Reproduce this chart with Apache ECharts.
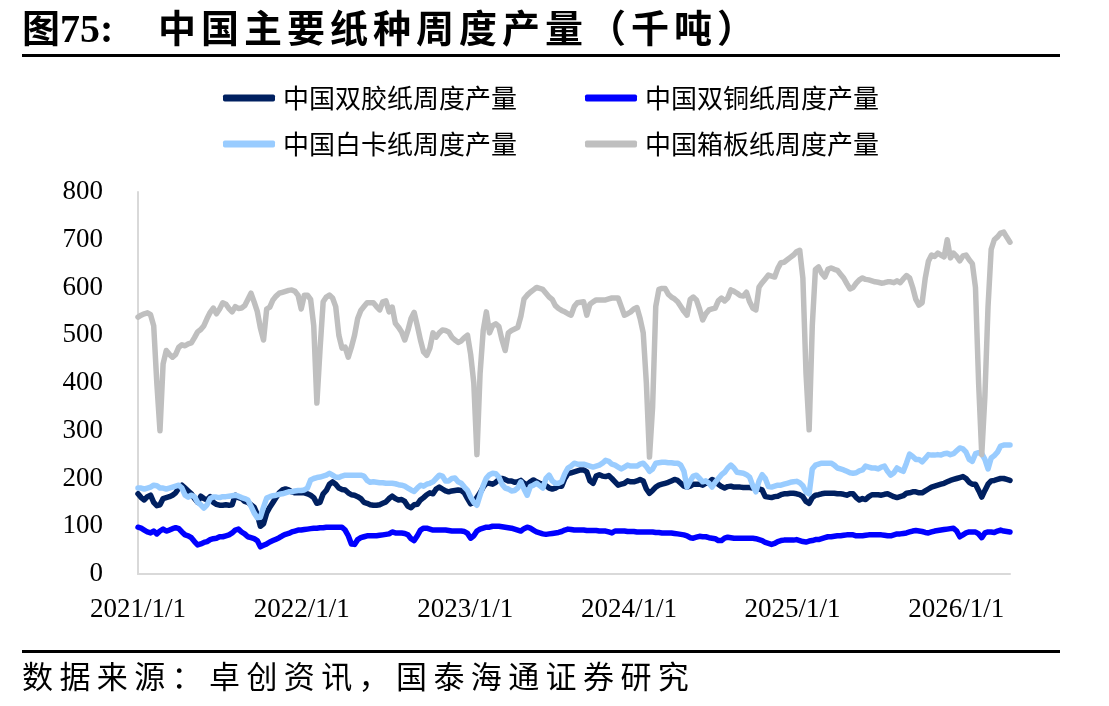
<!DOCTYPE html>
<html>
<head>
<meta charset="utf-8">
<title>中国主要纸种周度产量</title>
<script src="https://cdn.jsdelivr.net/npm/echarts@6.0.0/dist/echarts.min.js"></script>
<style>
  body { margin: 0; background: #fff; }
  .page { position: relative; width: 1109px; height: 706px; overflow: hidden; background: #fff; }
  #chart { position: absolute; left: 0; top: 0; width: 1109px; height: 706px; }
  .title { position: absolute; left: 22px; top: 3px; height: 46px; font-family: 'Noto Sans CJK SC'; font-weight: bold; font-size: 38px; line-height: 46px; color: #000; white-space: nowrap; }
  .title .num { font-family: 'Liberation Serif'; font-size: 40px; }
  .title .main { position: absolute; left: 136px; top: 0; letter-spacing: 5px; }
  .rule { position: absolute; left: 22px; width: 1038px; height: 3px; background: #000; }
  .source { position: absolute; left: 22px; top: 654px; font-family: 'Noto Sans CJK SC'; font-size: 31px; line-height: 42px; letter-spacing: 6.4px; color: #000; white-space: nowrap; }
</style>
</head>
<body>
<div class="page">
  <div id="chart"></div>
  <div class="title">图<span class="num">75:</span><span class="main">中国主要纸种周度产量（千吨）</span></div>
  <div class="rule" style="top:54px"></div>
  <div class="rule" style="top:650px"></div>
  <div class="source">数据来源：卓创资讯，国泰海通证券研究</div>
</div>
<script>
  // 周度数据，从2021/1/1起每周一个点
  var startDate = Date.UTC(2021, 0, 1)
  var weekMs = 7 * 24 * 3600 * 1000

  var seriesNames = ['中国双胶纸周度产量', '中国双铜纸周度产量', '中国白卡纸周度产量', '中国箱板纸周度产量']
  var seriesColors = ['#002060', '#0000FF', '#99CCFF', '#BFBFBF']
  var yearTicks = [2021, 2022, 2023, 2024, 2025, 2026]

  // 双胶纸
  var offsetPaper = [
    168,160,155,162,165,150,143,145,158,160, 162,165,170,180,186,180,174,168,158,150,
    163,158,155,162,150,146,144,144,145,144, 145,165,160,158,152,150,145,140,125,100,
    105,128,140,150,160,170,176,178,176,172, 170,170,170,170,168,165,160,148,150,168,
    175,188,193,188,180,177,176,170,166,165, 162,158,150,148,145,144,144,145,148,151,
    158,163,158,155,156,152,142,139,145,146, 155,160,166,170,168,178,182,178,174,172,
    174,175,176,175,170,158,147,150,160,170, 182,190,190,188,192,198,200,198,195,195,
    192,193,196,190,187,193,197,193,190,188, 185,180,178,180,184,184,200,210,212,214,
    216,218,218,214,195,190,205,208,205,204, 206,200,193,186,188,190,195,193,193,195,
    198,195,178,169,175,182,186,188,190,192, 195,198,196,190,184,182,184,188,188,188,
    186,190,192,198,195,188,183,180,183,184, 182,182,182,181,181,181,180,180,178,176,
    162,161,160,162,163,166,168,168,169,169, 168,166,162,152,148,160,165,166,168,169,
    169,169,169,168,168,167,165,168,168,160, 155,158,156,162,166,166,166,165,167,168,
    165,162,160,162,164,169,170,172,172,170, 170,174,178,182,184,186,188,190,193,196,
    198,200,202,204,200,192,188,188,175,161, 175,188,195,196,198,200,200,198,196
  ]

  // 双铜纸
  var coatedPaper = [
    98,96,92,88,86,90,84,90,94,90, 92,95,97,95,88,82,80,76,68,61,
    63,66,68,72,74,75,78,78,80,82, 86,92,94,88,84,78,76,74,70,57,
    60,63,67,70,73,76,80,83,85,88, 90,92,92,93,94,95,96,96,97,97,
    98,98,98,98,98,98,92,80,63,62, 72,76,78,80,80,80,80,81,82,83,
    84,88,86,86,86,85,82,74,70,80, 92,96,96,94,92,92,92,92,92,91,
    90,90,90,90,89,85,75,80,90,94, 96,98,98,100,100,100,99,98,97,96,
    94,92,90,95,98,96,92,88,86,84, 83,84,85,86,87,89,92,94,93,92,
    92,92,92,91,91,91,91,90,90,90, 88,86,90,90,90,90,89,89,89,88,
    88,88,88,88,88,87,87,86,86,86, 86,85,84,83,82,80,76,75,77,79,
    78,78,76,75,74,70,70,75,77,76, 75,75,75,75,75,75,75,74,72,70,
    66,64,62,64,68,70,71,71,71,71, 72,70,68,67,69,70,72,72,74,76,
    78,78,79,80,80,81,82,82,82,80, 80,80,81,82,82,82,82,82,81,80,
    80,82,84,84,85,86,88,90,91,90, 89,87,86,88,90,91,92,93,94,95,
    96,90,78,82,86,88,88,88,84,76, 86,88,88,87,90,92,90,89,88
  ]

  // 白卡纸
  var ivoryBoard = [
    180,180,178,180,182,186,185,180,180,178, 180,182,184,186,180,165,161,165,162,150,
    145,138,145,158,161,161,160,162,162,163, 164,165,163,160,158,155,142,128,118,119,
    140,159,162,164,165,167,168,170,172,172, 174,175,175,176,180,197,200,202,203,205,
    207,211,207,203,202,205,207,207,207,207, 207,207,205,196,192,193,192,191,191,190,
    190,190,189,187,186,184,180,176,173,180, 186,184,188,190,193,200,207,205,195,195,
    200,201,193,190,182,175,161,150,144,165, 185,201,208,211,210,203,188,180,178,174,
    175,180,193,178,165,183,186,190,185,180, 200,207,195,190,190,193,210,222,226,232,
    230,230,230,228,226,224,226,228,232,238, 236,230,228,224,220,224,228,226,226,226,
    230,232,225,215,220,232,233,234,234,233, 233,232,232,228,215,182,195,205,207,200,
    193,195,190,182,192,200,208,213,222,228, 222,213,212,211,208,203,185,172,195,208,
    200,183,182,184,186,186,188,190,192,193, 194,191,185,172,168,220,228,230,232,232,
    232,232,228,222,220,218,215,212,211,212, 216,218,226,224,222,222,220,224,226,215,
    207,212,222,218,215,232,251,246,240,240, 235,242,250,249,249,250,249,252,253,250,
    252,258,264,262,255,240,236,252,254,252, 240,220,243,248,255,268,270,270,270
  ]

  // 箱板纸
  var containerBoard = [
    538,542,545,547,543,520,400,300,440,468, 460,454,460,475,480,478,482,484,495,507,
    512,520,535,548,557,545,555,568,565,556, 549,560,556,557,562,575,588,570,550,515,
    490,555,559,574,582,588,590,592,594,595, 592,584,555,584,584,575,520,358,470,570,
    580,584,578,560,500,473,475,454,475,500, 535,552,560,568,568,568,560,553,570,572,
    549,559,525,517,507,490,510,535,548,520, 490,465,458,473,505,496,505,511,510,507,
    496,490,485,488,495,500,460,400,250,420, 510,549,505,520,524,518,490,468,505,510,
    513,516,540,576,584,590,595,600,598,596, 588,580,575,562,556,552,549,545,542,560,
    568,569,570,542,565,570,574,574,574,574, 576,578,578,578,560,542,545,549,555,558,
    535,505,400,245,350,560,596,598,598,586, 580,576,570,560,550,542,575,580,574,555,
    532,545,553,555,557,572,578,572,578,595, 592,588,583,582,590,570,557,553,601,610,
    618,626,624,622,640,652,653,658,663,668, 675,678,620,420,302,520,638,643,630,622,
    638,641,638,636,628,620,608,597,600,609, 616,620,617,616,614,612,611,609,610,612,
    612,610,614,610,618,625,620,600,575,563, 568,620,655,668,665,672,668,664,700,662,
    672,665,656,666,668,658,650,600,400,250, 372,560,680,700,706,714,716,705,695
  ]

  var allValues = [offsetPaper, coatedPaper, ivoryBoard, containerBoard]

  // 日期换算成"年份+年内比例"，这样每年1月1日正好落在整数刻度上
  function toYearPos(ms) {
    var d = new Date(ms)
    var y = d.getUTCFullYear()
    var s = Date.UTC(y, 0, 1)
    var e = Date.UTC(y + 1, 0, 1)
    return y + (ms - s) / (e - s)
  }
  var weekPos = offsetPaper.map(function (v, i) { return toYearPos(startDate + i * weekMs) })
  var xMax = weekPos[weekPos.length - 1]

  var serifFont = "'Liberation Serif', 'Times New Roman', serif"

  function legendRow(names, top) {
    return {
      data: names,
      left: 218,
      top: top,
      icon: 'roundRect',
      itemWidth: 52,
      itemHeight: 7,
      itemGap: 68,
      textStyle: { fontFamily: 'Noto Sans CJK SC', fontSize: 26, color: '#000', lineHeight: 30, padding: [0, 0, 0, 3] }
    }
  }

  var chart = echarts.init(document.getElementById('chart'), null, { renderer: 'canvas' })
  var option = {
    animation: false,
    color: seriesColors,
    legend: [
      legendRow(seriesNames.slice(0, 2), 78),
      legendRow(seriesNames.slice(2, 4), 124)
    ],
    grid: { left: 138, right: 99, top: 192, bottom: 132, containLabel: false },
    xAxis: {
      type: 'value',
      min: yearTicks[0],
      max: xMax,
      interval: 1,
      splitLine: { show: false },
      axisTick: { show: false },
      axisLine: { show: true, lineStyle: { color: '#D9D9D9', width: 2 } },
      axisLabel: {
        showMaxLabel: false,
        margin: 22,
        fontFamily: serifFont,
        fontSize: 27,
        color: '#000',
        formatter: function (v) {
          return yearTicks.indexOf(v) >= 0 ? v + '/1/1' : ''
        }
      }
    },
    yAxis: {
      type: 'value',
      min: 0,
      max: 800,
      interval: 100,
      splitLine: { show: false },
      axisTick: { show: false },
      axisLine: { show: true, lineStyle: { color: '#D9D9D9', width: 2 } },
      axisLabel: { margin: 35, fontFamily: serifFont, fontSize: 27, color: '#000' }
    },
    series: seriesNames.map(function (name, k) {
      return {
        name: name,
        type: 'line',
        symbol: 'none',
        showSymbol: false,
        itemStyle: { color: seriesColors[k] },
        lineStyle: { width: 5.5, color: seriesColors[k], join: 'round', cap: 'round' },
        data: allValues[k].map(function (v, i) { return [weekPos[i], v] })
      }
    })
  }
  chart.setOption(option)
  window.addEventListener('resize', function () {
    chart.resize()
  })
</script>
</body>
</html>
